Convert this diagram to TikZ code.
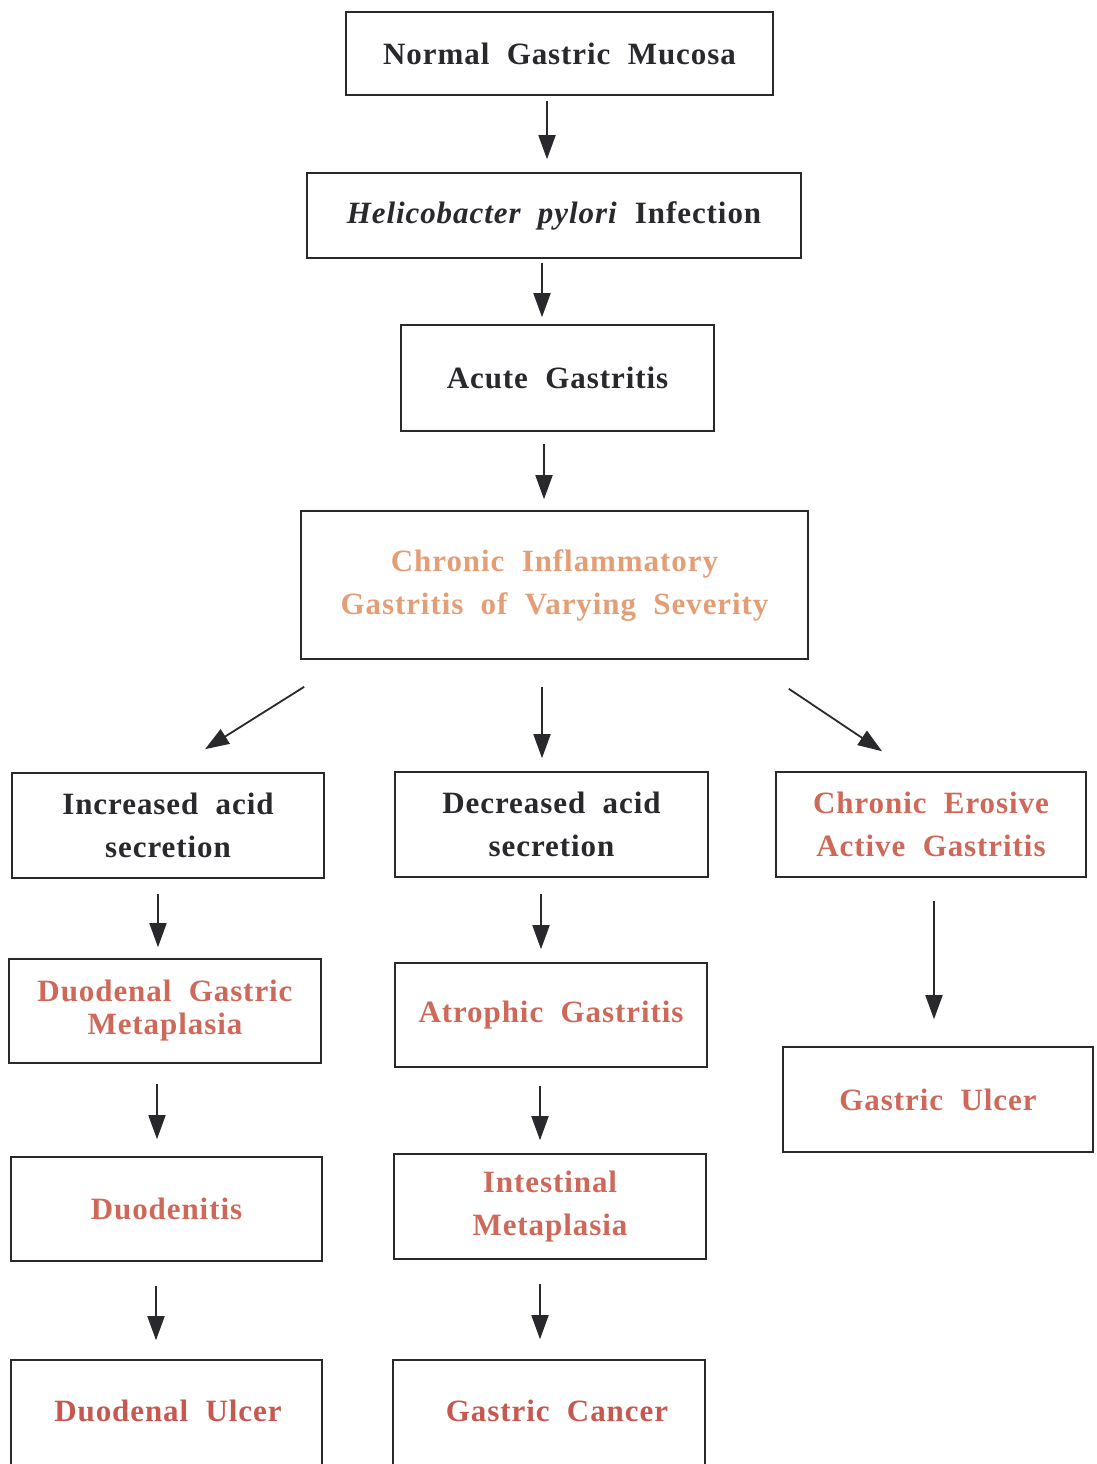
\documentclass[tikz,border=0pt]{standalone}
\usepackage{fontspec}
\setmainfont{Liberation Serif}[LetterSpace=3, WordSpace=2]
\usetikzlibrary{arrows.meta}
\definecolor{orng}{RGB}{228,158,118}
\definecolor{rd}{RGB}{206,104,88}
\definecolor{rdd}{RGB}{198,88,80}
\definecolor{ink}{RGB}{40,40,45}
\tikzset{
  box/.style={draw=ink, line width=1.6pt, align=center, inner sep=0pt,
    font=\bfseries\fontsize{31}{43}\selectfont, text=ink},
  arr/.style={draw=ink, line width=1.8pt, -{Triangle[length=24pt,width=17pt]}},
}
\begin{document}
\begin{tikzpicture}[x=1pt,y=-1pt]
\useasboundingbox (0,0) rectangle (1096,1464);
\node[box, minimum width=427, minimum height=83] (n1) at (559.5,53.5) {Normal Gastric Mucosa};
\node[box, minimum width=494, minimum height=85] (n2) at (554,215.5) {\textit{Helicobacter pylori} Infection};
\node[box, minimum width=313, minimum height=106] (n3) at (557.5,378) {Acute Gastritis};
\node[box, minimum width=507, minimum height=148, text=orng] (n4) at (554.5,585) {Chronic Inflammatory\\Gastritis of Varying Severity};
\node[box, minimum width=312, minimum height=105] (n5) at (168,825.5) {Increased acid\\secretion};
\node[box, minimum width=313, minimum height=105] (n6) at (551.5,824.5) {Decreased acid\\secretion};
\node[box, minimum width=310, minimum height=105, text=rd] (n7) at (931,824.5) {Chronic Erosive\\Active Gastritis};
\node[box, minimum width=312, minimum height=104, text=rd, font=\bfseries\fontsize{31}{33}\selectfont] (n8) at (165,1011) {Duodenal Gastric\\Metaplasia};
\node[box, minimum width=312, minimum height=104, text=rd] (n9) at (551,1015) {Atrophic Gastritis};
\node[box, minimum width=310, minimum height=105, text=rd] (n10) at (938,1099.5) {Gastric Ulcer};
\node[box, minimum width=311, minimum height=104, text=rd] (n11) at (166.5,1209) {Duodenitis};
\node[box, minimum width=312, minimum height=105, text=rd] (n12) at (550,1206.5) {Intestinal\\Metaplasia};
\node[box, minimum width=311, minimum height=112] (n13) at (166.5,1416) {};
\node[box, minimum width=312, minimum height=112] (n14) at (549,1416) {};
\node[box, draw=none, text=rdd] (t13) at (168,1411) {Duodenal Ulcer};
\node[box, draw=none, text=rdd] (t14) at (557,1411) {Gastric Cancer};

\draw[arr] ([shift={(-12.5,5)}]n1.south) -- ([shift={(-7,-13)}]n2.north);
\draw[arr] ([shift={(-12,4)}]n2.south) -- ([shift={(-15.5,-7)}]n3.north);
\draw[arr] ([shift={(-13.5,12)}]n3.south) -- ([shift={(-10.5,-11)}]n4.north);
\draw[arr] ([shift={(4,27)}]n4.south west) -- ([shift={(37,-23)}]n5.north);
\draw[arr] ([shift={(-12.5,27)}]n4.south) -- ([shift={(-9.5,-13)}]n6.north);
\draw[arr] ([shift={(-20,29)}]n4.south east) -- ([shift={(-49,-20)}]n7.north);
\draw[arr] ([shift={(-10,15)}]n5.south) -- ([shift={(-7,-11)}]n8.north);
\draw[arr] ([shift={(-8,20)}]n8.south) -- ([shift={(-9.5,-17)}]n11.north);
\draw[arr] ([shift={(-10.5,24)}]n11.south) -- ([shift={(-10.5,-19)}]n13.north);
\draw[arr] ([shift={(-10.5,16)}]n6.south) -- ([shift={(-10,-13)}]n9.north);
\draw[arr] ([shift={(-11,18)}]n9.south) -- ([shift={(-10,-13)}]n12.north);
\draw[arr] ([shift={(-10,24)}]n12.south) -- ([shift={(-9,-20)}]n14.north);
\draw[arr] ([shift={(3,23)}]n7.south) -- ([shift={(-4,-27)}]n10.north);
\end{tikzpicture}
\end{document}
